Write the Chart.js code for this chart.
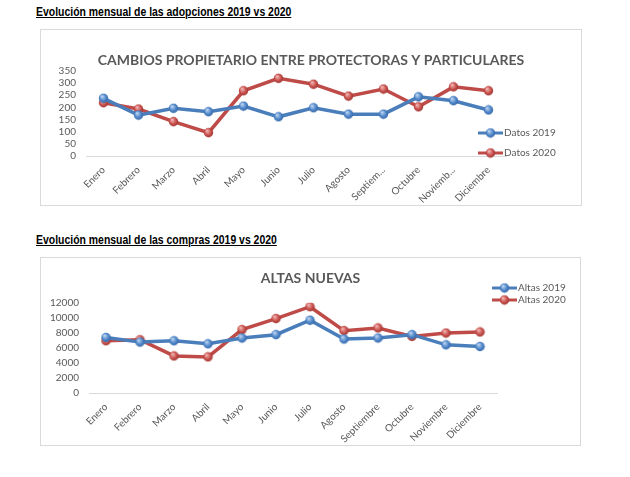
<!DOCTYPE html>
<html>
<head>
<meta charset="utf-8">
<script src="https://cdn.jsdelivr.net/npm/chart.js@4.4.1/dist/chart.umd.min.js"></script>
<style>
  body { margin: 0; background: #fff; width: 630px; height: 477px; position: relative; overflow: hidden; }
  .heading { position: absolute; left: 36px; font-family: "Liberation Sans", Arial, sans-serif;
             font-weight: bold; font-size: 12px; text-decoration: underline; color: #000; white-space: nowrap;
             transform: scaleX(0.87); transform-origin: left top; }
  .box { position: absolute; border: 1px solid #d9d9d9; box-sizing: border-box; }
  .box canvas { position: absolute; left: 0; top: 0; }
</style>
</head>
<body>
<div class="heading" style="top:5px">Evolución mensual de las adopciones 2019 vs 2020</div>
<div class="box" style="left:40px;top:29px;width:542px;height:177px"><canvas id="adopciones" width="540" height="175"></canvas></div>

<div class="heading" style="top:233px">Evolución mensual de las compras 2019 vs 2020</div>
<div class="box" style="left:40px;top:257px;width:541px;height:189px"><canvas id="compras" width="539" height="187"></canvas></div>

<script>
// datos
var mesesCortos = ['Enero', 'Febrero', 'Marzo', 'Abril', 'Mayo', 'Junio', 'Julio', 'Agosto', 'Septiem...', 'Octubre', 'Noviemb...', 'Diciembre'];
var meses = ['Enero', 'Febrero', 'Marzo', 'Abril', 'Mayo', 'Junio', 'Julio', 'Agosto', 'Septiembre', 'Octubre', 'Noviembre', 'Diciembre'];

var datos2019 = [237, 168, 196, 182, 205, 161, 198, 172, 172, 243, 227, 189];
var datos2020 = [219, 193, 141, 96, 268, 319, 295, 246, 275, 202, 284, 268];

var altas2019 = [7390, 6770, 6950, 6540, 7310, 7760, 9680, 7180, 7310, 7760, 6410, 6180];
var altas2020 = [6950, 7080, 4930, 4800, 8430, 9900, 11480, 8290, 8650, 7530, 7980, 8120];

var AZUL = '#4a7ebb';
var ROJO = '#be4b48';
var GRIS = '#595959';

// bolita con sombreado tipo excel
function bola(claro, base, oscuro) {
    var c = document.createElement('canvas');
    c.width = 11; c.height = 11;
    var g = c.getContext('2d');
    var grad = g.createRadialGradient(4, 3.5, 0.5, 5.5, 5.5, 5.5);
    grad.addColorStop(0, claro);
    grad.addColorStop(0.55, base);
    grad.addColorStop(1, oscuro);
    g.fillStyle = grad;
    g.beginPath();
    g.arc(5.5, 5.5, 4.7, 0, Math.PI * 2);
    g.fill();
    return c;
}
var bolaAzul = bola('#b9d2f0', '#4f86c9', '#2f5f9e');
var bolaRoja = bola('#f0b4b2', '#c9504c', '#8f2f2c');

// leyenda dibujada a mano en una posicion fija
var leyendaLateral = {
    id: 'leyendaLateral',
    afterDraw: function(chart, args, opts) {
        var ctx = chart.ctx;
        ctx.save();
        chart.data.datasets.forEach(function(ds, i) {
            var y = opts.y + i * opts.gap;
            ctx.strokeStyle = ds.borderColor;
            ctx.lineWidth = 3;
            ctx.beginPath();
            ctx.moveTo(opts.x, y);
            ctx.lineTo(opts.x + 25, y);
            ctx.stroke();
            ctx.drawImage(ds.pointStyle, opts.x + 12.5 - 5.5, y - 5.5);
            ctx.fillStyle = GRIS;
            ctx.font = '10px Lato';
            ctx.textBaseline = 'middle';
            ctx.fillText(ds.label, opts.x + 26, y);
        });
        ctx.restore();
    }
};

function serie(label, data, color, img) {
    return {
        label: label,
        data: data,
        borderColor: color,
        backgroundColor: color,
        borderWidth: 3.5,
        pointStyle: img,
        pointRadius: 5,
        pointHoverRadius: 5,
        tension: 0
    };
}

function opciones(titulo, yMax, paso, anchoY, anchoDer, altoX, titlePad, leyenda) {
    return {
        responsive: false,
        devicePixelRatio: 1,
        animation: false,
        layout: { padding: 0 },
        plugins: {
            legend: { display: false },
            tooltip: { enabled: false },
            title: {
                display: true,
                text: titulo,
                color: GRIS,
                font: { family: 'Lato', size: 14, weight: 'bold' },
                padding: titlePad
            },
            leyendaLateral: leyenda
        },
        scales: {
            x: {
                offset: true,
                grid: { display: false, drawTicks: false },
                border: { color: '#d9d9d9' },
                ticks: { color: GRIS, font: { family: 'Lato', size: 10 }, minRotation: 45, maxRotation: 45, autoSkip: false, padding: 8 },
                afterFit: function(s) { s.height = altoX; }
            },
            y: {
                min: 0,
                max: yMax,
                grid: { display: false, drawTicks: false },
                border: { display: false },
                ticks: { stepSize: paso, autoSkip: false, color: GRIS, font: { family: 'Lato', size: 10 }, padding: 10,
                         callback: function(v) { return String(v); } },
                afterFit: function(s) { s.width = anchoY; }
            },
            // eje vacio a la derecha para dejar sitio a la leyenda
            hueco: {
                position: 'right',
                grid: { display: false },
                border: { display: false },
                ticks: { display: false },
                afterFit: function(s) { s.width = anchoDer; }
            }
        }
    };
}

new Chart(document.getElementById('adopciones'), {
    type: 'line',
    data: {
        labels: mesesCortos,
        datasets: [
            serie('Datos 2019', datos2019, AZUL, bolaAzul),
            serie('Datos 2020', datos2020, ROJO, bolaRoja)
        ]
    },
    options: opciones('CAMBIOS PROPIETARIO ENTRE PROTECTORAS Y PARTICULARES', 350, 50,
        45, 75, 49, { top: 22, bottom: 2 },
        { x: 437, y: 103, gap: 20 }),
    plugins: [leyendaLateral]
});

new Chart(document.getElementById('compras'), {
    type: 'line',
    data: {
        labels: meses,
        datasets: [
            serie('Altas 2019', altas2019, AZUL, bolaAzul),
            serie('Altas 2020', altas2020, ROJO, bolaRoja)
        ]
    },
    options: opciones('ALTAS NUEVAS', 12000, 2000,
        48, 83, 52, { top: 12, bottom: 16 },
        { x: 451, y: 30, gap: 12 }),
    plugins: [leyendaLateral]
});
</script>
</body>
</html>
